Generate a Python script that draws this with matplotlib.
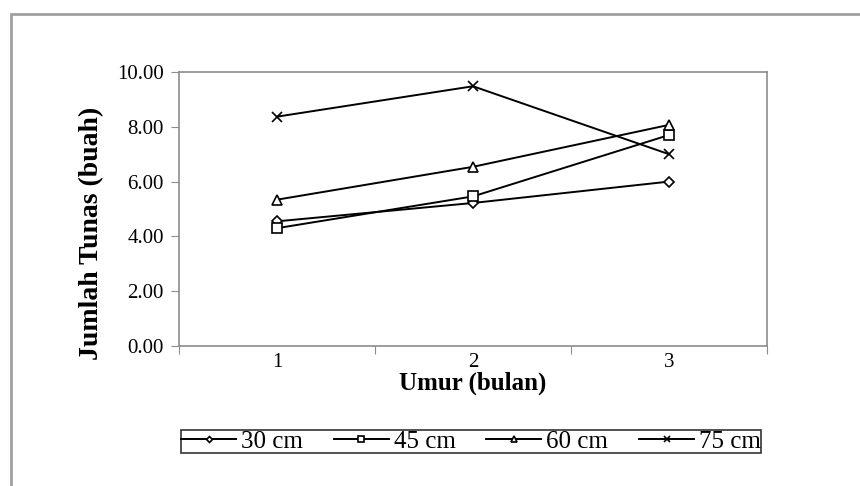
import matplotlib
matplotlib.use('Agg')
import matplotlib.pyplot as plt
from matplotlib.patches import Rectangle

plt.rcParams['font.family'] = ['Liberation Serif', 'DejaVu Serif']

# data
umur = [1, 2, 3]
tunas_30 = [4.55, 5.22, 6.00]
tunas_45 = [4.30, 5.46, 7.70]
tunas_60 = [5.34, 6.54, 8.07]
tunas_75 = [8.37, 9.48, 7.00]
y_ticks = [0, 2, 4, 6, 8, 10]

series = [
    ('30 cm', tunas_30, 'D', 5),
    ('45 cm', tunas_45, 's', 7.5),
    ('60 cm', tunas_60, '^', 7.5),
    ('75 cm', tunas_75, 'x', 7.5),
]

grey = '#8c8c8c'

fig = plt.figure(figsize=(8.6, 4.86), dpi=100)
ax = fig.add_axes([179 / 860, 1 - 346 / 486, 588 / 860, 274 / 486])

# outer chart border (runs off the right and bottom edges)
fig.patches.append(Rectangle((11 / 860, -0.1), 1.0, 1 - 14 / 486 + 0.1,
                             transform=fig.transFigure, fill=False,
                             edgecolor='#a0a0a0', linewidth=2))

for label, vals, mk, ms in series:
    ax.plot(umur, vals, color='black', linewidth=1.4, marker=mk, markersize=ms,
            markerfacecolor='white', markeredgecolor='black', markeredgewidth=1.2,
            label=label)

ax.set_xlim(0.5, 3.5)
ax.set_ylim(0, 10)
ax.set_yticks(y_ticks)
ax.set_yticklabels([f'{v:.2f}' for v in y_ticks], fontsize=15)

# category boundaries carry the tick marks, labels sit in between
ax.set_xticks([0.5, 1.5, 2.5, 3.5])
ax.set_xticklabels([])
ax.set_xticks(umur, minor=True)
ax.set_xticklabels([str(u) for u in umur], minor=True, fontsize=15)
ax.tick_params(axis='x', which='minor', length=0, pad=5)
ax.tick_params(axis='x', which='major', direction='out', length=6, color=grey)
ax.tick_params(axis='y', direction='out', length=6, color=grey, pad=5)

for sp in ax.spines.values():
    sp.set_color(grey)
    sp.set_linewidth(1.2)

ax.set_xlabel('Umur (bulan)', fontsize=18, fontweight='bold')
ax.xaxis.set_label_coords(0.5, -0.092)
ax.set_ylabel('Jumlah Tunas (buah)', fontsize=20, fontweight='bold')
ax.yaxis.set_label_coords(-0.128, 0.41)

leg = fig.legend(loc='center', bbox_to_anchor=(181 / 860, 1 - 455 / 486, 580 / 860, 27 / 486),
                 mode='expand', ncol=4,
                 fontsize=18, frameon=True, fancybox=False, edgecolor='black',
                 handlelength=2.2, handletextpad=0.2, columnspacing=0.9,
                 borderpad=0.0, borderaxespad=0, markerscale=0.6)
leg.get_frame().set_linewidth(1.2)

fig.savefig('out.png', dpi=100)
